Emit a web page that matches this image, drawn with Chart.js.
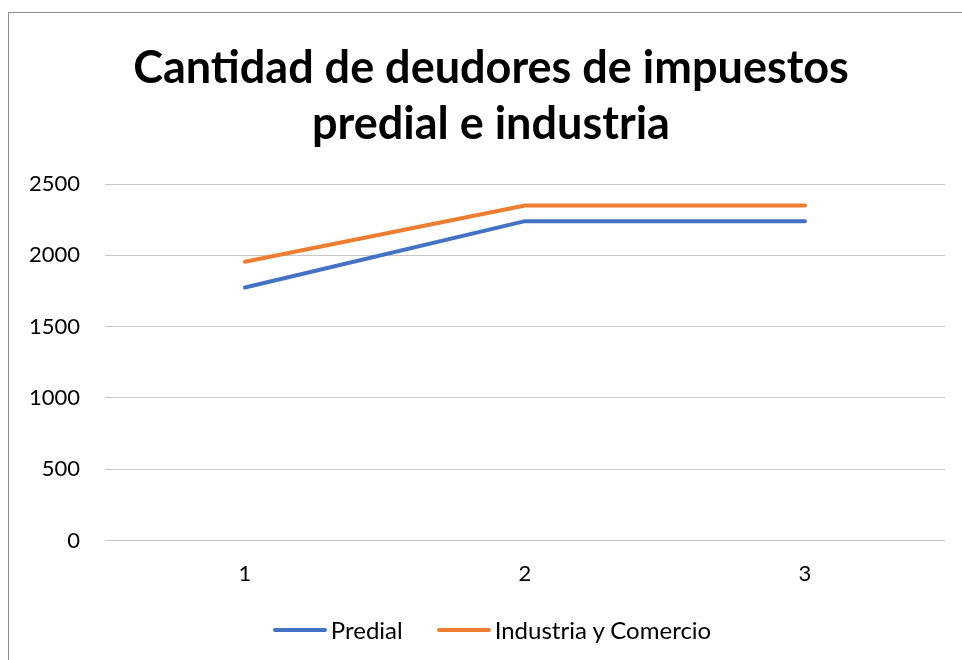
<!DOCTYPE html>
<html>
<head>
<meta charset="utf-8">
<script src="https://cdn.jsdelivr.net/npm/chart.js@4"></script>
<style>
  html, body { margin: 0; padding: 0; background: #fff; }
  #wrap { position: relative; width: 962px; height: 660px; overflow: hidden; }
  #frame { position: absolute; left: 8px; top: 12px; width: 1000px; height: 700px;
           border-left: 1px solid #8c8c8c; border-top: 1px solid #8c8c8c; box-sizing: border-box; }
  canvas { position: absolute; left: 0; top: 0; }
  #legend { position: absolute; left: 11px; top: 615px; width: 962px; display: flex; justify-content: center;
            font-family: Lato, "Open Sans", sans-serif; font-size: 24px; line-height: 29px; color: #000; }
  .item { display: flex; align-items: center; margin: 0 17px; }
  .swatch { width: 54px; height: 4px; border-radius: 2px; margin-right: 4px; }
</style>
</head>
<body>
<div id="wrap">
  <div id="frame"></div>
  <canvas id="c" width="962" height="660"></canvas>
  <div id="legend"></div>
</div>
<script>
const categories = ['1', '2', '3'];
const predial = [1775, 2240, 2240];
const industria = [1955, 2350, 2350];
const seriesNames = ['Predial', 'Industria y Comercio'];
const seriesColors = ['#4472C4', '#ED7D31'];
const titleLines = ['Cantidad de deudores de impuestos', 'predial e industria'];

const noLabelClip = {
  id: 'noLabelClip',
  afterLayout(chart) {
    Object.values(chart.scales).forEach(s => { s._computeLabelArea = () => undefined; });
  }
};

const chart = new Chart(document.getElementById('c'), {
  type: 'line',
  data: {
    labels: categories,
    datasets: [
      { label: seriesNames[0], data: predial, borderColor: seriesColors[0], backgroundColor: seriesColors[0],
        borderWidth: 4, pointRadius: 0, tension: 0, borderCapStyle: 'round', borderJoinStyle: 'round' },
      { label: seriesNames[1], data: industria, borderColor: seriesColors[1], backgroundColor: seriesColors[1],
        borderWidth: 4, pointRadius: 0, tension: 0, borderCapStyle: 'round', borderJoinStyle: 'round' }
    ]
  },
  plugins: [noLabelClip],
  options: {
    responsive: false,
    animation: false,
    layout: { padding: { left: 37, right: 17, top: 0, bottom: 53 } },
    plugins: {
      legend: { display: false },
      tooltip: { enabled: false },
      title: {
        display: true,
        text: titleLines,
        color: '#000',
        font: { family: 'Lato', size: 45, weight: 'bold', lineHeight: 1.245 },
        padding: { top: 40, bottom: 32 }
      }
    },
    scales: {
      x: {
        offset: true,
        grid: { display: false, drawTicks: false },
        border: { display: false },
        ticks: { color: '#000', font: { family: 'Lato', size: 22 }, padding: 20, maxRotation: 0 }
      },
      y: {
        min: 0, max: 2500,
        afterFit: (s) => { s.width = 68; },
        grid: { color: '#c6c6c6', lineWidth: 1, drawTicks: false },
        border: { display: false },
        ticks: { stepSize: 500, color: '#000', font: { family: 'Lato', size: 22 }, padding: 25,
                 callback: (v) => String(v) }
      }
    }
  }
});

const leg = document.getElementById('legend');
chart.data.datasets.forEach(ds => {
  const it = document.createElement('div'); it.className = 'item';
  const sw = document.createElement('span'); sw.className = 'swatch'; sw.style.background = ds.borderColor;
  const tx = document.createElement('span'); tx.textContent = ds.label;
  it.appendChild(sw); it.appendChild(tx); leg.appendChild(it);
});
</script>
</body>
</html>
